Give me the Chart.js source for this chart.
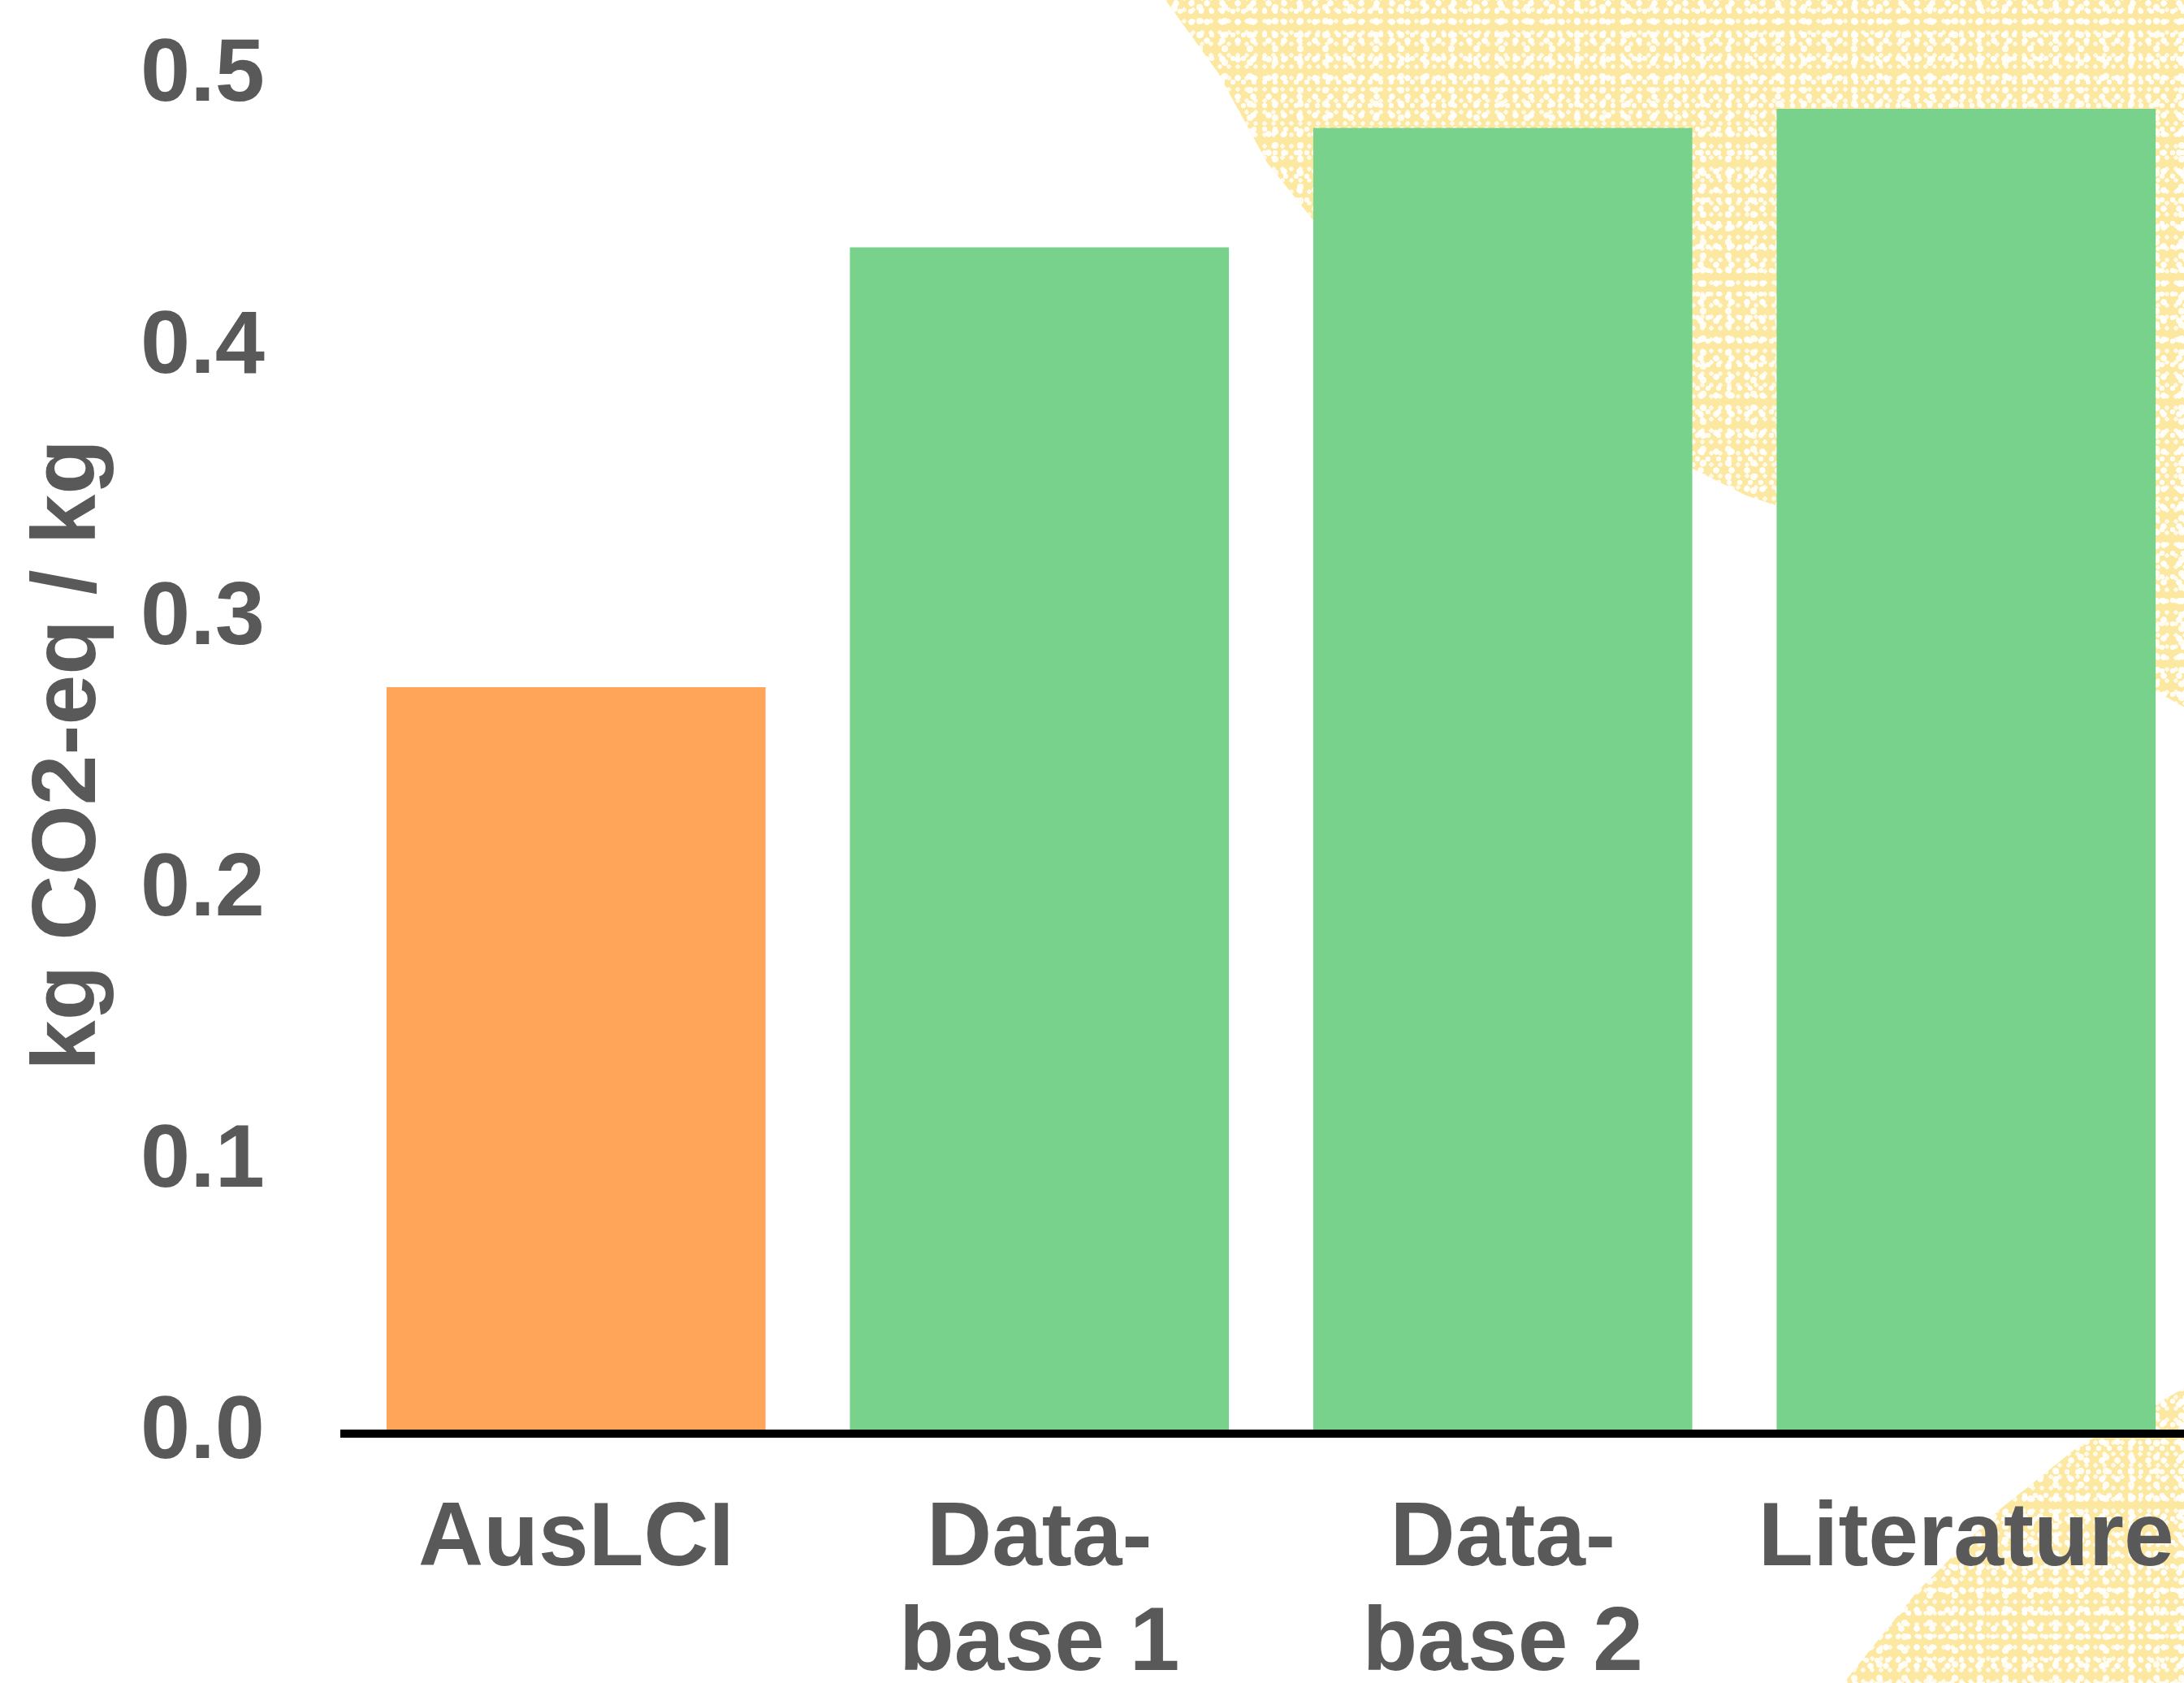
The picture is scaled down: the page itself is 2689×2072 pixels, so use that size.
<!DOCTYPE html>
<html>
<head>
<meta charset="utf-8">
<script src="https://cdn.jsdelivr.net/npm/chart.js@4/dist/chart.umd.min.js"></script>
<style>
  html, body { margin: 0; padding: 0; overflow: hidden; background: #ffffff; width: 2689px; height: 2072px; }
  #wrap { position: relative; width: 2706px; height: 2072px; }
  .blob {
    position: absolute; left: 0; top: 0; width: 2706px; height: 2072px;
    background-color: #FCE8A0;
    background-image:
      radial-gradient(circle at 4px 4px, rgba(255,255,255,0.95) 3.5px, rgba(255,255,255,0) 4px),
      radial-gradient(circle at 3px 3px, rgba(255,255,255,0.9) 3px, rgba(255,255,255,0) 3.5px),
      radial-gradient(circle at 5px 5px, rgba(255,255,255,0.85) 4px, rgba(255,255,255,0) 4.5px),
      radial-gradient(circle at 3px 3px, rgba(255,255,255,0.8) 2.5px, rgba(255,255,255,0) 3px);
    background-size: 19px 23px, 13px 29px, 31px 17px, 11px 14px;
    background-position: 0 0, 7px 11px, 15px 4px, 3px 9px;
  }
  #blobTop { clip-path: polygon(1435px 0px, 1500px 90px, 1560px 200px, 1640px 300px, 1760px 380px, 1900px 460px, 2050px 560px, 2150px 610px, 2300px 660px, 2450px 740px, 2600px 820px, 2706px 880px, 2706px 0px); }
  #blobBot { clip-path: polygon(2270px 2072px, 2360px 1960px, 2460px 1860px, 2560px 1780px, 2706px 1700px, 2706px 2072px); }
  canvas { position: absolute; left: 0; top: 0; }
</style>
</head>
<body>
<div id="wrap">
  <div class="blob" id="blobTop"></div>
  <div class="blob" id="blobBot"></div>
  <canvas id="c" width="2706" height="2072"></canvas>
</div>
<script>
const categories = ['AusLCI', ['Data-', 'base 1'], ['Data-', 'base 2'], 'Literature'];
const values = [0.275, 0.437, 0.481, 0.488];
const barColors = ['#FFA55A', '#79D28C', '#79D28C', '#79D28C'];
const yAxisTitle = 'kg CO2-eq / kg';
const yMin = 0, yMax = 0.5, yStep = 0.1;

const textColor = '#595959';
const fontFamily = "'Liberation Sans', Arial, Helvetica, sans-serif";

new Chart(document.getElementById('c'), {
  type: 'bar',
  data: {
    labels: categories,
    datasets: [{
      data: values,
      backgroundColor: barColors,
      borderWidth: 0,
      barPercentage: 0.818,
      categoryPercentage: 1.0
    }]
  },
  options: {
    responsive: false,
    animation: false,
    layout: { padding: { top: 94, left: 0, right: 0, bottom: 0 } },
    plugins: { legend: { display: false }, tooltip: { enabled: false } },
    scales: {
      x: {
        grid: { display: false, drawTicks: false },
        border: { display: true, color: '#000000', width: 10, z: 1 },
        ticks: {
          color: textColor,
          font: { family: fontFamily, size: 111, weight: 'bold', lineHeight: 1.16 },
          padding: 67,
          maxRotation: 0,
          minRotation: 0,
          autoSkip: false
        },
        afterFit: (s) => { s.height = 307; s.paddingLeft = 0; s.paddingRight = 0; }
      },
      y: {
        min: yMin,
        max: yMax,
        grid: { display: false, drawTicks: false },
        border: { display: false },
        ticks: {
          stepSize: yStep,
          color: textColor,
          font: { family: fontFamily, size: 110, weight: 'bold' },
          padding: 98,
          callback: (v) => Number(v).toFixed(1)
        },
        title: {
          display: true,
          text: yAxisTitle,
          color: textColor,
          font: { family: fontFamily, size: 111, weight: 'bold', lineHeight: 1.2 },
          padding: { top: 20, bottom: 0 }
        },
        afterFit: (s) => { s.width = 424; s.paddingTop = 0; s.paddingBottom = 0; }
      }
    }
  }
});
</script>
</body>
</html>
